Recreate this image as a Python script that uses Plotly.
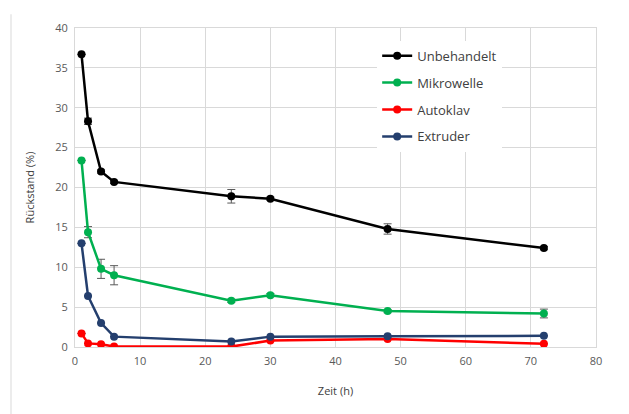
import plotly.graph_objects as go

zeit = [1, 2, 4, 6, 24, 30, 48, 72]

unbehandelt = [36.7, 28.3, 22.0, 20.7, 18.9, 18.6, 14.8, 12.4]
unbehandelt_err = [0.0, 0.4, 0.2, 0.2, 0.85, 0.2, 0.65, 0.2]

mikrowelle = [23.4, 14.4, 9.8, 9.0, 5.8, 6.5, 4.5, 4.2]
mikrowelle_err = [0.0, 0.7, 1.2, 1.2, 0.2, 0.2, 0.2, 0.55]

autoklav = [1.7, 0.45, 0.35, 0.05, 0.05, 0.8, 1.0, 0.4]
autoklav_err = [0, 0, 0, 0, 0, 0, 0, 0]

extruder = [13.0, 6.4, 3.0, 1.3, 0.7, 1.3, 1.35, 1.4]
extruder_err = [0, 0, 0, 0, 0, 0, 0, 0]

series = [
    ("Unbehandelt", unbehandelt, unbehandelt_err, "#000000"),
    ("Mikrowelle", mikrowelle, mikrowelle_err, "#00b050"),
    ("Autoklav", autoklav, autoklav_err, "#ff0000"),
    ("Extruder", extruder, extruder_err, "#243f6e"),
]

FONT = "Open Sans"
fig = go.Figure()
for i, (name, vals, err, col) in enumerate(series):
    fig.add_trace(go.Scatter(
        x=zeit, y=vals, name=name, mode="lines+markers",
        line=dict(color=col, width=2.5),
        marker=dict(color=col, size=8, symbol="circle"),
        error_y=dict(type="data", array=err, visible=True,
                     color="#595959", thickness=1, width=4),
        legendgroup=name,
    ))

L, R, T, B = 67, 41, 14, 75
W, H = 629, 414
fig.update_layout(
    width=W, height=H,
    margin=dict(l=L, r=R, t=T, b=B),
    paper_bgcolor="white", plot_bgcolor="white",
    font=dict(family=FONT, size=11, color="#595959"),
    showlegend=True,
    legend=dict(
        x=0.58, y=0.96, xanchor="left", yanchor="top",
        bgcolor="rgba(255,255,255,1)",
        font=dict(family=FONT, size=13, color="#404040"),
        traceorder="grouped", tracegroupgap=7,
        itemwidth=30,
    ),
    xaxis=dict(
        range=[0, 80], dtick=10, tick0=0,
        showgrid=True, gridcolor="#d9d9d9", gridwidth=1,
        showline=True, linecolor="#d9d9d9", mirror=True,
        zeroline=False, ticks="outside", ticklen=4, tickcolor="rgba(0,0,0,0)",
        title=dict(text="Zeit (h)", font=dict(family=FONT, size=11, color="#404040"), standoff=20),
        tickfont=dict(family=FONT, size=11, color="#595959"),
    ),
    yaxis=dict(
        range=[0, 40], dtick=5, tick0=0,
        showgrid=True, gridcolor="#d9d9d9", gridwidth=1,
        showline=True, linecolor="#d9d9d9", mirror=True,
        zeroline=False, ticks="outside", ticklen=4, tickcolor="rgba(0,0,0,0)",
        title=dict(text="Rückstand (%)", font=dict(family=FONT, size=11, color="#404040"), standoff=18),
        tickfont=dict(family=FONT, size=11, color="#595959"),
    ),
)

# chart-area border lines (left and right edges)
pw = W - L - R
ph = H - T - B
for px in (3, 619):
    xp = (px - L) / pw
    fig.add_shape(type="line", xref="paper", yref="paper",
                  x0=xp, x1=xp, y0=-B / ph, y1=(ph + T) / ph,
                  line=dict(color="#d9d9d9", width=1))

fig.write_html("out.html")
